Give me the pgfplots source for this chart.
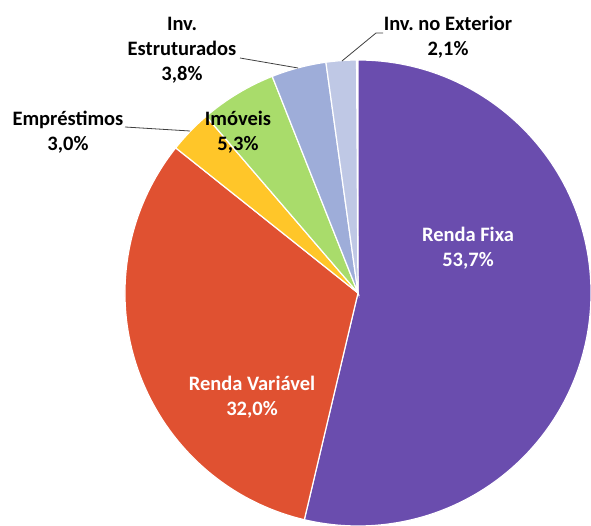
\documentclass[border=0pt]{standalone}
\usepackage{pgfplots}
\pgfplotsset{compat=1.18}
\usepackage{fontspec}
\setmainfont{Carlito}
\frenchspacing
\definecolor{cRF}{HTML}{6A4DAE}
\definecolor{cRV}{HTML}{E05131}
\definecolor{cEM}{HTML}{FFC629}
\definecolor{cIM}{HTML}{A9DC6B}
\definecolor{cIE}{HTML}{9EADD9}
\definecolor{cEX}{HTML}{BFC8E5}
\definecolor{lead}{HTML}{404040}
\begin{document}
\begin{tikzpicture}
\begin{axis}[x=1pt,y=1pt,xmin=0,xmax=591,ymin=0,ymax=525,hide axis,clip=false,scale only axis]
\coordinate (bl) at (axis cs:0,0);
\coordinate (tr) at (axis cs:591,525);
\def\cx{358}\def\cy{232}\def\R{233}
\xdef\ang{90}
\foreach \v/\c in {53.7/cRF, 32.0/cRV, 3.0/cEM, 5.3/cIM, 3.8/cIE, 2.1/cEX} {
  \pgfmathsetmacro\e{\ang-3.6*\v}
  \edef\slice{\noexpand\fill[\c, draw=white, line width=1.2pt] (axis cs:\cx,\cy) -- (axis cs:{\cx+\R*cos(\ang)},{\cy+\R*sin(\ang)}) arc[start angle=\ang, end angle=\e, radius=\R pt] -- cycle;}
  \slice
  \xdef\ang{\e}
}
\draw[lead, line width=0.8pt] (axis cs:125,398) -- (axis cs:190,394);
\draw[lead, line width=0.8pt] (axis cs:240,467) -- (axis cs:298,457);
\draw[lead, line width=0.8pt] (axis cs:383,492) -- (axis cs:376,492) -- (axis cs:342,464);
\tikzset{lbl/.style={align=center, font=\fontsize{20.5}{25}\selectfont\bfseries, inner sep=0pt}}
\node[lbl, white] at (axis cs:468,277) {Renda Fixa\\53,7\%};
\node[lbl, white] at (axis cs:252,128) {Renda Variável\\32,0\%};
\node[lbl] at (axis cs:238,393) {Imóveis\\5,3\%};
\node[lbl] at (axis cs:68,393) {Empréstimos\\3,0\%};
\node[lbl] at (axis cs:182,475) {Inv.\\Estruturados\\3,8\%};
\node[lbl] at (axis cs:448,488) {Inv. no Exterior\\2,1\%};
\end{axis}
\pgfresetboundingbox
\useasboundingbox (bl) rectangle (tr);
\end{tikzpicture}
\end{document}
